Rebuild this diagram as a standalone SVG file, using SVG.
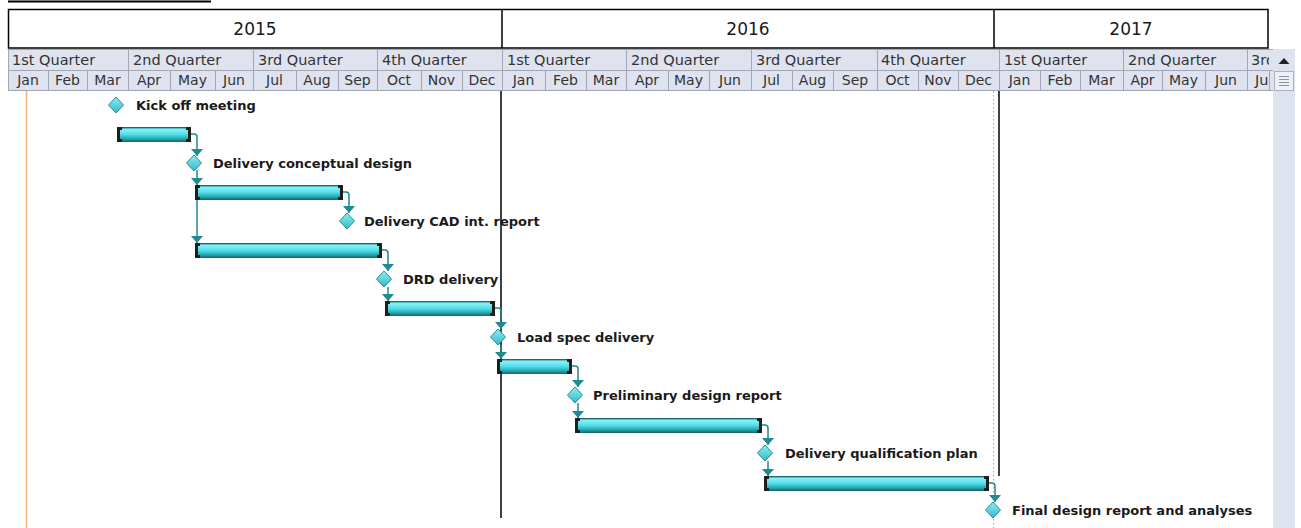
<svg xmlns="http://www.w3.org/2000/svg" xmlns:xlink="http://www.w3.org/1999/xlink" width="1301" height="528" viewBox="0 0 1301 528">
<style>
.yr{font-family:"DejaVu Sans","Liberation Sans",sans-serif;font-size:17px;fill:#1a1a1a;text-anchor:middle}
.qt{font-family:"DejaVu Sans","Liberation Sans",sans-serif;font-size:14.5px;fill:#333}
.mo{font-family:"DejaVu Sans","Liberation Sans",sans-serif;font-size:14px;fill:#333;text-anchor:middle}
.lbl{font-family:"DejaVu Sans","Liberation Sans",sans-serif;font-size:13px;font-weight:bold;fill:#1a1a1a}
.grid{stroke:#a3a7b3;stroke-width:1}
.bar{fill:url(#barG);stroke:#1b6a70;stroke-width:1}
.cap{fill:#1e1e1e}
.ms{fill:url(#msG);stroke:#2a8f99;stroke-width:1}
.link{fill:none;stroke:#1f8a90;stroke-width:1.5}
</style>
<defs>
<linearGradient id="barG" x1="0" y1="0" x2="0" y2="1">
<stop offset="0" stop-color="#2a8f96"/>
<stop offset="0.15" stop-color="#86f1f7"/>
<stop offset="0.5" stop-color="#52dce6"/>
<stop offset="0.85" stop-color="#1e9ea7"/>
<stop offset="1" stop-color="#15666c"/>
</linearGradient>
<linearGradient id="msG" x1="0" y1="0" x2="0" y2="1">
<stop offset="0" stop-color="#8ceef5"/>
<stop offset="1" stop-color="#34b9c5"/>
</linearGradient>
<path id="dia" d="M0,-8 L7.5,0 L0,8 L-7.5,0 Z"/>
<marker id="arr" viewBox="0 0 7 12" refX="7" refY="6" markerWidth="7" markerHeight="12" markerUnits="userSpaceOnUse" orient="auto">
<path d="M0,0 L7,6 L0,12 Z" fill="#1f8a90"/>
</marker>
<clipPath id="hdrClip"><rect x="0" y="0" width="1269" height="528"/></clipPath>
</defs>
<rect x="0" y="0" width="1301" height="528" fill="#ffffff"/>
<g id="title-underline"><line x1="8" y1="1.5" x2="211" y2="1.5" stroke="#000" stroke-width="2"/></g>
<g id="years">
<rect x="8.5" y="9.5" width="1259.5" height="38.5" fill="#fff" stroke="#000" stroke-width="1.5"/>
<line x1="502" y1="9.5" x2="502" y2="48" stroke="#000" stroke-width="1.5"/>
<line x1="994" y1="9.5" x2="994" y2="48" stroke="#000" stroke-width="1.5"/>
<text class="yr" x="255" y="35">2015</text>
<text class="yr" x="748" y="35">2016</text>
<text class="yr" x="1131" y="35">2017</text>
</g>
<g id="timescale">
<rect x="8" y="49" width="1265" height="41" fill="#dfe3ef"/>
<line class="grid" x1="8" y1="49.5" x2="1273" y2="49.5"/>
<line class="grid" x1="8" y1="70.5" x2="1273" y2="70.5"/>
<line class="grid" x1="8" y1="90.5" x2="1273" y2="90.5"/>
<g class="grid">
<line x1="8.5" y1="49" x2="8.5" y2="90"/>
<line x1="128.5" y1="49" x2="128.5" y2="90"/><line x1="253.5" y1="49" x2="253.5" y2="90"/><line x1="377.5" y1="49" x2="377.5" y2="90"/><line x1="502.5" y1="49" x2="502.5" y2="90"/><line x1="626.5" y1="49" x2="626.5" y2="90"/><line x1="751.5" y1="49" x2="751.5" y2="90"/><line x1="877.5" y1="49" x2="877.5" y2="90"/><line x1="999.5" y1="49" x2="999.5" y2="90"/><line x1="1123.5" y1="49" x2="1123.5" y2="90"/><line x1="1247.5" y1="49" x2="1247.5" y2="90"/>
<line x1="48.5" y1="70" x2="48.5" y2="90"/><line x1="87.5" y1="70" x2="87.5" y2="90"/><line x1="170.5" y1="70" x2="170.5" y2="90"/><line x1="215.5" y1="70" x2="215.5" y2="90"/><line x1="296.5" y1="70" x2="296.5" y2="90"/><line x1="338.5" y1="70" x2="338.5" y2="90"/><line x1="421.5" y1="70" x2="421.5" y2="90"/><line x1="462.5" y1="70" x2="462.5" y2="90"/><line x1="545.5" y1="70" x2="545.5" y2="90"/><line x1="586.5" y1="70" x2="586.5" y2="90"/><line x1="668.5" y1="70" x2="668.5" y2="90"/><line x1="709.5" y1="70" x2="709.5" y2="90"/><line x1="792.5" y1="70" x2="792.5" y2="90"/><line x1="833.5" y1="70" x2="833.5" y2="90"/><line x1="918.5" y1="70" x2="918.5" y2="90"/><line x1="958.5" y1="70" x2="958.5" y2="90"/><line x1="1040.5" y1="70" x2="1040.5" y2="90"/><line x1="1080.5" y1="70" x2="1080.5" y2="90"/><line x1="1162.5" y1="70" x2="1162.5" y2="90"/><line x1="1205.5" y1="70" x2="1205.5" y2="90"/>
<line x1="1269.5" y1="70" x2="1269.5" y2="90"/>
</g>
<g clip-path="url(#hdrClip)">
<text class="qt" x="12" y="65">1st Quarter</text><text class="qt" x="133" y="65">2nd Quarter</text><text class="qt" x="258" y="65">3rd Quarter</text><text class="qt" x="382" y="65">4th Quarter</text>
<text class="qt" x="507" y="65">1st Quarter</text><text class="qt" x="631" y="65">2nd Quarter</text><text class="qt" x="756" y="65">3rd Quarter</text><text class="qt" x="881" y="65">4th Quarter</text>
<text class="qt" x="1004" y="65">1st Quarter</text><text class="qt" x="1128" y="65">2nd Quarter</text><text class="qt" x="1251" y="65">3rd Quarter</text>
<text class="mo" x="28" y="85">Jan</text><text class="mo" x="67.5" y="85">Feb</text><text class="mo" x="107.5" y="85">Mar</text><text class="mo" x="149" y="85">Apr</text><text class="mo" x="192.5" y="85">May</text><text class="mo" x="234" y="85">Jun</text><text class="mo" x="274.5" y="85">Jul</text><text class="mo" x="317" y="85">Aug</text><text class="mo" x="357.5" y="85">Sep</text><text class="mo" x="399" y="85">Oct</text><text class="mo" x="441.5" y="85">Nov</text><text class="mo" x="482" y="85">Dec</text>
<text class="mo" x="523.5" y="85">Jan</text><text class="mo" x="565.5" y="85">Feb</text><text class="mo" x="606" y="85">Mar</text><text class="mo" x="647" y="85">Apr</text><text class="mo" x="688.5" y="85">May</text><text class="mo" x="730" y="85">Jun</text><text class="mo" x="771.5" y="85">Jul</text><text class="mo" x="812.5" y="85">Aug</text><text class="mo" x="855" y="85">Sep</text><text class="mo" x="897.5" y="85">Oct</text><text class="mo" x="938" y="85">Nov</text><text class="mo" x="978.5" y="85">Dec</text>
<text class="mo" x="1019.5" y="85">Jan</text><text class="mo" x="1060" y="85">Feb</text><text class="mo" x="1101.5" y="85">Mar</text><text class="mo" x="1142.5" y="85">Apr</text><text class="mo" x="1183.5" y="85">May</text><text class="mo" x="1226" y="85">Jun</text><text class="qt" x="1255" y="85">Jul</text>
</g>
</g>
<g id="scrollbar">
<rect x="1273" y="49" width="22" height="479" fill="#dde4ef"/>
<rect x="1273" y="49" width="22" height="21" fill="#dfe3ef"/>
<polygon points="1278.5,64 1289.5,64 1284,58" fill="#222"/>
<rect x="1274.5" y="71.5" width="19" height="19" fill="#eef1f6" stroke="#a9b2c2"/>
<g stroke="#8a93a3" stroke-width="1"><line x1="1279" y1="76.5" x2="1289" y2="76.5"/><line x1="1279" y1="79.5" x2="1289" y2="79.5"/><line x1="1279" y1="82.5" x2="1289" y2="82.5"/><line x1="1279" y1="85.5" x2="1289" y2="85.5"/></g>
</g>
<g id="gridlines">
<line x1="26.5" y1="91" x2="26.5" y2="528" stroke="#f5b47a" stroke-width="1.5"/>
<line x1="993.5" y1="91" x2="993.5" y2="528" stroke="#a8a8a8" stroke-width="1" stroke-dasharray="1.5,2.5"/>
<line x1="501" y1="91" x2="501" y2="518" stroke="#000" stroke-width="1.5"/>
<line x1="999" y1="91" x2="999" y2="476" stroke="#000" stroke-width="1.5"/>
</g>
<g id="connectors">
<path class="link" d="M191,134 H194 Q197,134 197,137 V156" marker-end="url(#arr)"/>
<path class="link" d="M197,170 V185" marker-end="url(#arr)"/>
<path class="link" d="M197,200 V243" marker-end="url(#arr)"/>
<path class="link" d="M343,192 H346 Q349,192 349,195 V213" marker-end="url(#arr)"/>
<path class="link" d="M382,250 H385 Q388,250 388,253 V271" marker-end="url(#arr)"/>
<path class="link" d="M388,287 V301" marker-end="url(#arr)"/>
<path class="link" d="M495,308 H498 Q501,308 501,311 V329" marker-end="url(#arr)"/>
<path class="link" d="M501,345 V359" marker-end="url(#arr)"/>
<path class="link" d="M572,366 H575 Q578,366 578,369 V387" marker-end="url(#arr)"/>
<path class="link" d="M578,403 V418" marker-end="url(#arr)"/>
<path class="link" d="M762,425 H765 Q768,425 768,428 V445" marker-end="url(#arr)"/>
<path class="link" d="M768,461 V476" marker-end="url(#arr)"/>
<path class="link" d="M989,483 H992 Q995,483 995,486 V502" marker-end="url(#arr)"/>
</g>
<g id="m-kickoff"><use xlink:href="#dia" x="116" y="105" class="ms"/><text class="lbl" x="136" y="110">Kick off meeting</text></g>
<g id="t-1"><rect class="bar" x="117.5" y="127.5" width="73" height="14" rx="2"/><path class="cap" d="M117,127 h5 v3 h-2 v9 h2 v3 h-5 z"/><path class="cap" d="M191,127 h-5 v3 h2 v9 h-2 v3 h5 z"/></g>
<g id="m-conceptual"><use xlink:href="#dia" x="194" y="163" class="ms"/><text class="lbl" x="213" y="168">Delivery conceptual design</text></g>
<g id="t-2"><rect class="bar" x="195.5" y="185.5" width="147" height="14" rx="2"/><path class="cap" d="M195,185 h5 v3 h-2 v9 h2 v3 h-5 z"/><path class="cap" d="M343,185 h-5 v3 h2 v9 h-2 v3 h5 z"/></g>
<g id="m-cad"><use xlink:href="#dia" x="347" y="221" class="ms"/><text class="lbl" x="364" y="226">Delivery CAD int. report</text></g>
<g id="t-3"><rect class="bar" x="195.5" y="243.5" width="186" height="14" rx="2"/><path class="cap" d="M195,243 h5 v3 h-2 v9 h2 v3 h-5 z"/><path class="cap" d="M382,243 h-5 v3 h2 v9 h-2 v3 h5 z"/></g>
<g id="m-drd"><use xlink:href="#dia" x="384" y="279" class="ms"/><text class="lbl" x="403" y="284">DRD delivery</text></g>
<g id="t-4"><rect class="bar" x="385.5" y="301.5" width="109" height="14" rx="2"/><path class="cap" d="M385,301 h5 v3 h-2 v9 h2 v3 h-5 z"/><path class="cap" d="M495,301 h-5 v3 h2 v9 h-2 v3 h5 z"/></g>
<g id="m-loadspec"><use xlink:href="#dia" x="498" y="337" class="ms"/><text class="lbl" x="517" y="342">Load spec delivery</text></g>
<g id="t-5"><rect class="bar" x="497.5" y="359.5" width="74" height="14" rx="2"/><path class="cap" d="M497,359 h5 v3 h-2 v9 h2 v3 h-5 z"/><path class="cap" d="M572,359 h-5 v3 h2 v9 h-2 v3 h5 z"/></g>
<g id="m-prelim"><use xlink:href="#dia" x="575" y="395" class="ms"/><text class="lbl" x="593" y="400">Preliminary design report</text></g>
<g id="t-6"><rect class="bar" x="575.5" y="418.5" width="186" height="14" rx="2"/><path class="cap" d="M575,418 h5 v3 h-2 v9 h2 v3 h-5 z"/><path class="cap" d="M762,418 h-5 v3 h2 v9 h-2 v3 h5 z"/></g>
<g id="m-qualplan"><use xlink:href="#dia" x="765" y="453" class="ms"/><text class="lbl" x="785" y="458">Delivery qualification plan</text></g>
<g id="t-7"><rect class="bar" x="764.5" y="476.5" width="224" height="14" rx="2"/><path class="cap" d="M764,476 h5 v3 h-2 v9 h2 v3 h-5 z"/><path class="cap" d="M989,476 h-5 v3 h2 v9 h-2 v3 h5 z"/></g>
<g id="m-final"><use xlink:href="#dia" x="993" y="510" class="ms"/><text class="lbl" x="1012" y="515">Final design report and analyses</text></g>
</svg>
